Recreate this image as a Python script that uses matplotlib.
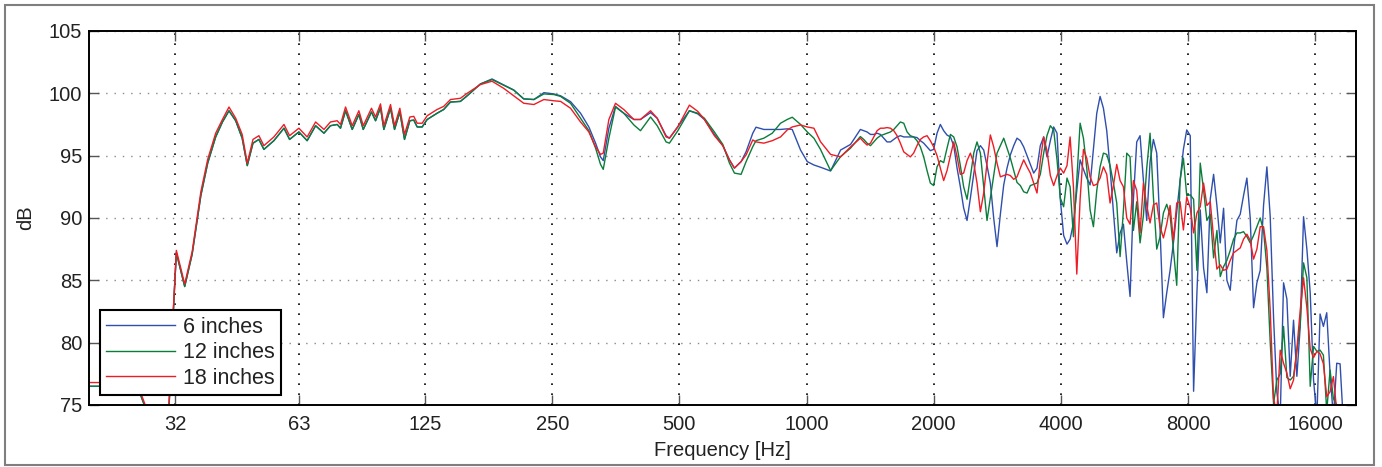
import matplotlib
matplotlib.use('Agg')
import matplotlib.pyplot as plt
import matplotlib.ticker as ticker
from matplotlib.patches import Rectangle

plt.rcParams['font.family'] = ['Liberation Sans', 'DejaVu Sans']

#### Frecuencias comunes (zona baja, hasta ~1.3 kHz) ####
freq_low = [20.0, 21.3, 23.8, 26.5, 28.0, 29.6, 30.9, 31.6, 32.2, 33.7,
            35.1, 36.8, 38.2, 39.9, 41.4, 42.9, 44.5, 46.1, 47.4, 48.9,
            50.5, 51.9, 54.8, 57.9, 59.7, 62.8, 65.7, 68.8, 72.0, 74.6,
            77.4, 78.8, 81.0, 84.0, 87.1, 89.2, 93.3, 95.4, 98.0, 99.8,
            103.5, 105.8, 108.9, 111.7, 115.0, 117.5, 119.7, 123.0, 126.4, 133.4,
            138.3, 143.5, 151.5, 157.2, 169.0, 180.0, 191.8, 202.6, 214.0, 226.2,
            238.8, 252.2, 261.6, 276.2, 291.7, 305.2, 316.6, 325.2, 330.1, 340.4,
            352.9, 369.2, 390.1, 404.4, 427.2, 443.0, 465.0, 473.5, 495.7, 528.0,
            552.7, 573.0, 605.0, 633.5, 656.9, 674.9, 699.9, 719.3, 745.9, 759.2,
            792.4, 829.5, 867.8, 900.0, 925.0, 967.8, 1004, 1041, 1079, 1140,
            1204, 1271, 1341]

db6_low = [76.5, 76.5, 76.4, 75.8, 73.6, 71.8, 74.4, 81.8, 87.2, 84.5,
           87.1, 91.8, 94.4, 96.5, 97.7, 98.6, 97.8, 96.4, 94.2, 96.0,
           96.3, 95.5, 96.2, 97.2, 96.3, 96.9, 96.2, 97.4, 96.8, 97.4,
           97.5, 97.2, 98.6, 97.1, 98.3, 97.1, 98.5, 97.8, 98.85, 97.1,
           98.8, 97.1, 98.5, 96.3, 97.8, 97.85, 97.3, 97.3, 97.9, 98.4,
           98.7, 99.3, 99.35, 99.8, 100.75, 101.15, 100.67, 100.27, 99.55, 99.5,
           100.05, 99.95, 99.8, 99.33, 98.4, 97.3, 96.0, 94.9, 94.6, 97.2,
           98.95, 98.4, 97.9, 97.9, 98.45, 98.0, 96.6, 96.4, 97.33, 98.6,
           98.35, 97.9, 96.7, 95.8, 94.66, 94.0, 94.52, 95.32, 96.8, 97.28,
           97.1, 97.1, 97.1, 97.15, 97.1, 95.45, 94.52, 94.25, 94.07, 93.77,
           95.45, 95.9, 97.1]

db12_low = [76.5, 76.5, 76.4, 75.8, 73.6, 71.8, 74.4, 81.8, 87.2, 84.5,
            87.1, 91.8, 94.4, 96.5, 97.7, 98.6, 97.8, 96.4, 94.2, 96.0,
            96.3, 95.5, 96.2, 97.2, 96.3, 96.9, 96.2, 97.4, 96.8, 97.4,
            97.5, 97.2, 98.6, 97.1, 98.3, 97.1, 98.5, 97.8, 98.85, 97.1,
            98.8, 97.1, 98.5, 96.3, 97.8, 97.85, 97.3, 97.3, 97.9, 98.4,
            98.7, 99.3, 99.35, 99.8, 100.75, 101.1, 100.65, 100.25, 99.55, 99.5,
            99.95, 99.9, 99.75, 99.2, 98.0, 97.0, 95.6, 94.3, 93.9, 96.4,
            98.9, 98.4, 97.46, 97.0, 98.1, 97.4, 96.1, 96.0, 97.0, 98.6,
            98.4, 98.0, 96.9, 95.9, 94.4, 93.6, 93.5, 94.52, 95.72, 96.2,
            96.4, 96.8, 97.6, 97.9, 98.08, 97.5, 96.9, 96.4, 95.5, 93.8,
            94.92, 95.6, 96.53]

db18_low = [76.8, 76.8, 76.7, 76.0, 73.8, 72.0, 74.6, 82.0, 87.4, 84.7,
            87.3, 92.1, 94.7, 96.8, 97.9, 98.9, 98.0, 96.7, 94.4, 96.3,
            96.6, 95.8, 96.5, 97.5, 96.6, 97.2, 96.5, 97.7, 97.1, 97.7,
            97.8, 97.5, 98.9, 97.4, 98.6, 97.4, 98.8, 98.1, 99.15, 97.4,
            99.1, 97.4, 98.8, 96.7, 98.1, 98.15, 97.6, 97.6, 98.2, 98.7,
            98.95, 99.5, 99.6, 100.0, 100.7, 100.97, 100.4, 99.8, 99.2, 99.1,
            99.5, 99.4, 99.35, 98.8, 97.7, 96.9, 95.7, 95.1, 95.2, 97.9,
            99.2, 98.7, 97.9, 97.9, 98.6, 98.0, 96.5, 96.4, 97.3, 99.05,
            98.55, 97.9, 96.6, 95.8, 94.66, 94.0, 94.52, 95.06, 96.26, 96.1,
            96.0, 96.2, 96.5, 97.06, 97.3, 97.46, 97.3, 97.2, 96.12, 95.1,
            94.9, 95.7, 96.4]

#### Frecuencias comunes (zona alta) ####
freq_high = [1366, 1391, 1417, 1443, 1469, 1496, 1523, 1551, 1580, 1609,
             1638, 1668, 1699, 1730, 1761, 1793, 1826, 1860, 1894, 1929,
             1964, 2000, 2037, 2074, 2112, 2151, 2191, 2231, 2272, 2313,
             2355, 2399, 2443, 2488, 2533, 2580, 2627, 2675, 2724, 2774,
             2825, 2877, 2930, 2983, 3038, 3094, 3150, 3208, 3267, 3327,
             3388, 3450, 3513, 3577, 3643, 3709, 3778, 3847, 3918, 3989,
             4062, 4137, 4208, 4285, 4364, 4444, 4525, 4608, 4692, 4778,
             4866, 4955, 5046, 5138, 5232, 5328, 5426, 5526, 5627, 5730,
             5835, 5942, 6051, 6162, 6275, 6390, 6507, 6626, 6748, 6872,
             6998, 7126, 7257, 7390, 7525, 7664, 7804, 7947, 8101, 8250,
             8401, 8554, 8711, 8870, 9034, 9200, 9368, 9540, 9715, 9893,
             10074, 10259, 10447, 10638, 10833, 11031, 11234, 11440, 11650, 11863,
             12080, 12302, 12528, 12758, 12991, 13230, 13472, 13720, 13970, 14226,
             14487, 14754, 15024, 15300, 15580, 15866, 16157, 16441, 16742, 17049,
             17363, 17681, 18005, 18336, 18672, 19015, 19362, 19717, 20000]

db6_high = [97.0, 96.9, 96.7, 96.7, 96.8, 96.7, 96.4, 96.1, 96.1, 96.3,
            96.5, 96.6, 96.5, 96.5, 96.5, 96.5, 96.45, 96.2, 96.0, 95.7,
            95.4, 95.5, 96.8, 97.5, 97.0, 96.65, 96.5, 95.8, 94.0, 92.5,
            90.8, 89.8, 91.6, 93.5, 95.4, 95.8, 95.45, 94.2, 92.8, 90.0,
            87.7, 90.3, 92.65, 94.0, 95.06, 95.8, 96.4, 96.2, 95.7, 95.0,
            94.3, 93.6, 94.0, 95.8, 96.5, 94.9, 96.2, 97.3, 96.8, 91.5,
            88.6, 87.9, 88.3, 89.6, 92.2, 94.66, 93.9, 93.2, 92.65, 95.5,
            98.4, 99.75, 98.8, 97.0, 94.0, 90.5, 87.2, 88.8, 89.5, 86.5,
            83.7, 91.5, 96.1, 96.6, 93.0, 89.8, 94.5, 96.3, 95.2, 89.0,
            82.0, 84.0, 85.8, 88.0, 90.5, 93.0, 95.5, 97.06, 96.6, 76.1,
            84.0, 90.65, 86.0, 84.0, 91.5, 93.5, 91.0, 88.0, 90.78, 85.0,
            84.2, 87.5, 89.8, 90.3, 91.8, 93.2, 90.0, 82.8, 84.8, 85.8,
            91.0, 94.1, 90.1, 82.0, 76.0, 74.0, 84.8, 83.5, 77.3, 81.8,
            77.3, 81.3, 90.1, 87.5, 84.0, 77.0, 74.0, 82.3, 81.3, 82.4,
            77.5, 74.0, 78.35, 78.3, 73.5, 72.0, 71.5, 71.0, 70.5]

db12_high = [96.3, 96.0, 95.8, 96.1, 96.4, 96.6, 96.7, 96.8, 96.9, 97.1,
             97.4, 97.7, 97.6, 96.9, 96.6, 96.5, 96.2, 95.7, 94.9, 93.8,
             92.8, 92.6, 94.1, 94.6, 94.44, 95.6, 96.7, 96.5, 95.7, 94.2,
             92.5, 91.5, 93.3, 95.2, 96.1, 95.2, 92.5, 89.8, 91.6, 93.4,
             95.2, 95.8, 96.4, 95.6, 94.8, 93.8, 92.85, 92.6, 92.1, 92.0,
             92.6, 92.7, 92.8, 93.5, 95.2, 96.6, 97.4, 97.06, 94.66, 91.6,
             90.9, 93.2, 92.5, 88.5, 93.0, 97.6, 96.4, 94.0, 90.65, 89.3,
             92.2, 94.1, 95.2, 95.1, 94.2, 92.8, 91.2, 86.9, 90.6, 95.2,
             94.9, 89.0, 91.3, 88.0, 90.2, 94.0, 96.8, 91.7, 87.5, 88.5,
             90.4, 91.1, 90.2, 87.5, 84.6, 93.0, 94.8, 91.8, 91.85, 91.5,
             85.8, 94.4, 92.25, 89.8, 90.3, 86.8, 89.0, 85.3, 86.1, 86.6,
             87.4, 88.3, 88.8, 88.8, 88.9, 88.5, 88.0, 88.6, 89.3, 90.0,
             89.0, 86.0, 80.0, 75.1, 77.0, 77.5, 81.3, 77.2, 77.0, 77.3,
             79.3, 81.5, 86.4, 85.2, 76.5, 79.7, 79.3, 79.4, 79.0, 74.5,
             77.8, 75.5, 75.0, 73.5, 72.5, 72.0, 71.5, 71.0, 70.5]

db18_high = [96.1, 95.85, 96.0, 96.5, 97.0, 97.2, 97.2, 97.25, 97.2, 97.0,
             96.6, 96.0, 95.3, 95.1, 94.9, 95.2, 95.8, 96.3, 96.5, 96.6,
             96.2, 95.7, 95.0, 94.0, 93.0, 93.8, 95.0, 96.1, 94.9, 93.5,
             93.6, 94.6, 95.2, 94.4, 92.8, 90.5, 92.0, 94.4, 96.66, 95.7,
             94.4, 93.3, 93.4, 93.5, 93.4, 93.1, 93.3, 94.0, 94.66, 94.1,
             93.6, 92.8, 92.0, 94.6, 96.5, 95.4, 93.4, 92.6, 93.4, 94.0,
             93.6, 94.2, 96.5, 92.5, 85.5, 91.5, 95.5, 94.8, 93.3, 92.6,
             92.7, 93.2, 94.1, 93.5, 91.2, 92.6, 94.3, 93.0, 92.5, 90.0,
             89.5, 93.0, 92.2, 88.8, 92.8, 91.0, 89.6, 91.05, 91.2, 89.3,
             88.4, 89.5, 91.0, 88.2, 91.2, 91.3, 89.04, 91.7, 90.8, 88.8,
             90.4, 90.9, 92.8, 91.0, 91.3, 88.4, 85.9, 86.24, 85.8, 85.9,
             86.6, 87.2, 87.4, 87.6, 88.3, 88.7, 88.2, 86.7, 87.5, 89.3,
             89.3, 87.4, 82.6, 75.5, 74.3, 79.4, 78.35, 77.55, 76.3, 77.0,
             79.5, 82.6, 85.2, 82.8, 79.5, 78.8, 79.3, 79.1, 78.3, 75.67,
             76.07, 77.28, 74.5, 73.5, 72.5, 72.0, 71.5, 71.0, 70.5]

freq = freq_low + freq_high
db_6in = db6_low + db6_high
db_12in = db12_low + db12_high
db_18in = db18_low + db18_high

xtick_vals = [32, 63, 125, 250, 500, 1000, 2000, 4000, 8000, 16000]
xtick_labels = ['32', '63', '125', '250', '500', '1000', '2000', '4000', '8000', '16000']

#### Grafico ####
fig = plt.figure(figsize=(13.82, 4.67), dpi=100)
ax = fig.add_axes([0.0644, 0.1328, 0.9168, 0.8009])

ax.plot(freq, db_6in, color='#2f4fae', linewidth=1.0, label='6 inches')
ax.plot(freq, db_12in, color='#0b7d3b', linewidth=1.0, label='12 inches')
ax.plot(freq, db_18in, color='#ee1c25', linewidth=1.0, label='18 inches')

ax.set_xscale('log')
ax.set_xlim(20, 20000)
ax.set_ylim(75, 105)
ax.set_xticks(xtick_vals)
ax.set_xticklabels(xtick_labels)
ax.xaxis.set_minor_locator(ticker.NullLocator())
ax.set_yticks([75, 80, 85, 90, 95, 100, 105])

ax.grid(axis='x', color='black', linestyle=(0, (1, 5)), linewidth=1.2)
ax.grid(axis='y', color='#8a8a8a', linestyle=(0, (1, 5)), linewidth=1.0)

ax.tick_params(direction='in', length=7, width=1, top=True, right=True,
               color='#555555', labelcolor='#222222', labelsize=14.5)
ax.tick_params(axis='x', pad=7)
ax.tick_params(axis='y', pad=5)
for s in ax.spines.values():
    s.set_linewidth(1.4)

ax.set_xlabel('Frequency [Hz]', fontsize=14.5, labelpad=5, color='#222222')
ax.set_ylabel('dB', fontsize=14.5, labelpad=10, color='#222222')

leg = ax.legend(loc='lower left', bbox_to_anchor=(0.0087, 0.0267), borderaxespad=0,
                fontsize=15.5, fancybox=False, framealpha=1, edgecolor='black',
                handlelength=3.2, handletextpad=0.35, labelspacing=0.2, borderpad=0.3)
leg.get_frame().set_linewidth(1.5)
for t in leg.get_texts():
    t.set_color('#222222')

#### Marco exterior ####
fig.add_artist(Rectangle((5 / 1382, 2 / 467), 1369 / 1382, 460 / 467,
                         transform=fig.transFigure, fill=False,
                         edgecolor='#7f7f7f', linewidth=1.5))

plt.savefig('out.png', dpi=100)
plt.close()
